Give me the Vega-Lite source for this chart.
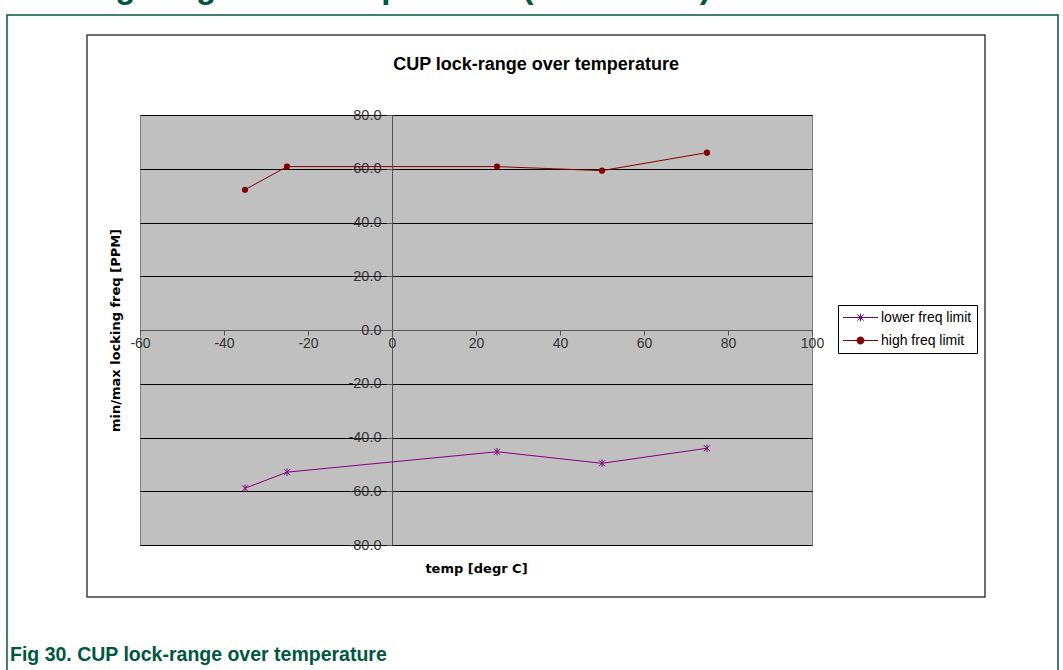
{
  "$schema": "https://vega.github.io/schema/vega-lite/v6.json",
  "width": 672,
  "height": 430,
  "autosize": "none",
  "padding": {"left": 140, "top": 115, "right": 251, "bottom": 125},
  "background": "white",
  "config": {
    "view": {"fill": "#C0C0C0", "stroke": "#808080", "strokeWidth": 1}
  },
  "data": {
    "values": [
      {"series": "lower freq limit", "temp": -35, "ppm": -58.9},
      {"series": "lower freq limit", "temp": -25, "ppm": -52.9},
      {"series": "lower freq limit", "temp": 25, "ppm": -45.3},
      {"series": "lower freq limit", "temp": 50, "ppm": -49.6},
      {"series": "lower freq limit", "temp": 75, "ppm": -44.0},
      {"series": "high freq limit", "temp": -35, "ppm": 52.2},
      {"series": "high freq limit", "temp": -25, "ppm": 60.8},
      {"series": "high freq limit", "temp": 25, "ppm": 60.8},
      {"series": "high freq limit", "temp": 50, "ppm": 59.3},
      {"series": "high freq limit", "temp": 75, "ppm": 66.0}
    ]
  },
  "layer": [
    {
      "mark": {"type": "line", "strokeWidth": 1},
      "encoding": {
        "x": {
          "field": "temp",
          "type": "quantitative",
          "title": "temp [degr C]",
          "scale": {"domain": [-60, 100], "nice": false, "zero": false},
          "axis": {
            "orient": "bottom",
            "offset": -215,
            "values": [-60, -40, -20, 0, 20, 40, 60, 80, 100],
            "labelExpr": "replace(datum.label, '\u2212', '-')",
            "grid": false,
            "domainColor": "#555555",
            "tickColor": "#555555",
            "tickSize": 5,
            "labelFont": "Liberation Sans",
            "labelFontSize": 14,
            "labelColor": "#333333",
            "labelPadding": 1,
            "labelFlush": false,
            "labelOverlap": false,
            "titleFont": "DejaVu Sans",
            "titleFontSize": 13,
            "titleFontWeight": "bold",
            "titleColor": "#000000",
            "titleX": 336,
            "titleY": 238,
            "titleBaseline": "middle",
            "titleAlign": "center"
          }
        },
        "y": {
          "field": "ppm",
          "type": "quantitative",
          "title": "min/max locking freq [PPM]",
          "scale": {"domain": [-80, 80], "nice": false, "zero": false},
          "axis": {
            "orient": "left",
            "offset": -252,
            "values": [-80, -60, -40, -20, 0, 20, 40, 60, 80],
            "format": ".1f",
            "labelExpr": "replace(datum.label, '\u2212', '-')",
            "grid": true,
            "gridColor": "#000000",
            "gridWidth": 1,
            "gridOpacity": 1,
            "domainColor": "#555555",
            "tickColor": "#555555",
            "tickSize": 6,
            "labelFont": "Liberation Sans",
            "labelFontSize": 14.5,
            "labelColor": "#333333",
            "labelPadding": 5,
            "labelOverlap": false,
            "titleFont": "DejaVu Sans",
            "titleFontSize": 13,
            "titleFontWeight": "bold",
            "titleColor": "#000000",
            "titleX": -277,
            "titleY": 215,
            "titleAngle": -90,
            "titleBaseline": "middle",
            "titleAlign": "center"
          }
        },
        "color": {
          "field": "series",
          "type": "nominal",
          "scale": {"domain": ["lower freq limit", "high freq limit"], "range": ["#800080", "#800000"]},
          "legend": {
            "orient": "none",
            "legendX": 698,
            "legendY": 190,
            "title": null,
            "strokeColor": "#000000",
            "fillColor": "#ffffff",
            "padding": 5,
            "symbolSize": 196,
            "symbolOffset": 10,
            "labelOffset": 13,
            "symbolStrokeWidth": 1,
            "labelFont": "Liberation Sans",
            "labelFontSize": 14,
            "labelColor": "#000000",
            "rowPadding": 8,
            "encode": {
              "symbols": {
                "update": {
                  "shape": {"signal": "datum.value === 'high freq limit' ? 'M-2.5,0H2.5M0.5,0A0.5,0.5,0,1,1,-0.5,0A0.5,0.5,0,1,1,0.5,0Z' : 'M-2.5,0H2.5M0,-0.55V0.55M-0.45,-0.45L0.45,0.45M-0.45,0.45L0.45,-0.45'"},
                  "fill": {"signal": "datum.value === 'high freq limit' ? '#800000' : 'transparent'"}
                }
              }
            }
          }
        }
      }
    },
    {
      "transform": [{"filter": "datum.series === 'high freq limit'"}],
      "mark": {"type": "circle", "size": 38, "color": "#800000", "opacity": 1},
      "encoding": {
        "x": {"field": "temp", "type": "quantitative"},
        "y": {"field": "ppm", "type": "quantitative"}
      }
    },
    {
      "transform": [{"filter": "datum.series === 'lower freq limit'"}],
      "mark": {"type": "point", "shape": "M0,-1V1M-0.8,-0.8L0.8,0.8M-0.8,0.8L0.8,-0.8", "size": 56, "filled": false, "stroke": "#800080", "strokeWidth": 1, "opacity": 1},
      "encoding": {
        "x": {"field": "temp", "type": "quantitative"},
        "y": {"field": "ppm", "type": "quantitative"}
      }
    },
    {
      "data": {"values": [{"kind": "page frame"}]},
      "mark": {"type": "rect", "fill": "transparent", "stroke": "#00573F", "strokeWidth": 1.5},
      "encoding": {
        "x": {"datum": -91.67, "type": "quantitative"},
        "x2": {"datum": 158.57},
        "y": {"datum": 117.21, "type": "quantitative"},
        "y2": {"datum": -137.7}
      }
    },
    {
      "data": {"values": [{"kind": "chart box"}]},
      "mark": {"type": "rect", "fill": "transparent", "stroke": "#404040", "strokeWidth": 1.5},
      "encoding": {
        "x": {"datum": -72.62, "type": "quantitative"},
        "x2": {"datum": 141.19},
        "y": {"datum": 109.77, "type": "quantitative"},
        "y2": {"datum": -99.35}
      }
    },
    {
      "data": {"values": [{"label": "CUP lock-range over temperature"}]},
      "mark": {"type": "text", "align": "center", "baseline": "middle", "font": "Liberation Sans", "fontSize": 18, "fontWeight": "bold", "color": "#000000"},
      "encoding": {
        "x": {"datum": 34.29, "type": "quantitative"},
        "y": {"datum": 98.6, "type": "quantitative"},
        "text": {"field": "label"}
      }
    },
    {
      "data": {"values": [{"label": "Locking range over temperature (CUP mode)"}]},
      "mark": {"type": "text", "align": "left", "baseline": "alphabetic", "font": "Liberation Sans", "fontSize": 33, "fontWeight": "bold", "color": "#00573F"},
      "encoding": {
        "x": {"datum": -91.19, "type": "quantitative"},
        "y": {"datum": 123.53, "type": "quantitative"},
        "text": {"field": "label"}
      }
    },
    {
      "data": {"values": [{"label": "Fig 30.  CUP lock-range over temperature"}]},
      "mark": {"type": "text", "align": "left", "baseline": "alphabetic", "font": "Liberation Sans", "fontSize": 19.5, "fontWeight": "bold", "color": "#00573F"},
      "encoding": {
        "x": {"datum": -90.95, "type": "quantitative"},
        "y": {"datum": -123.16, "type": "quantitative"},
        "text": {"field": "label"}
      }
    }
  ]
}
